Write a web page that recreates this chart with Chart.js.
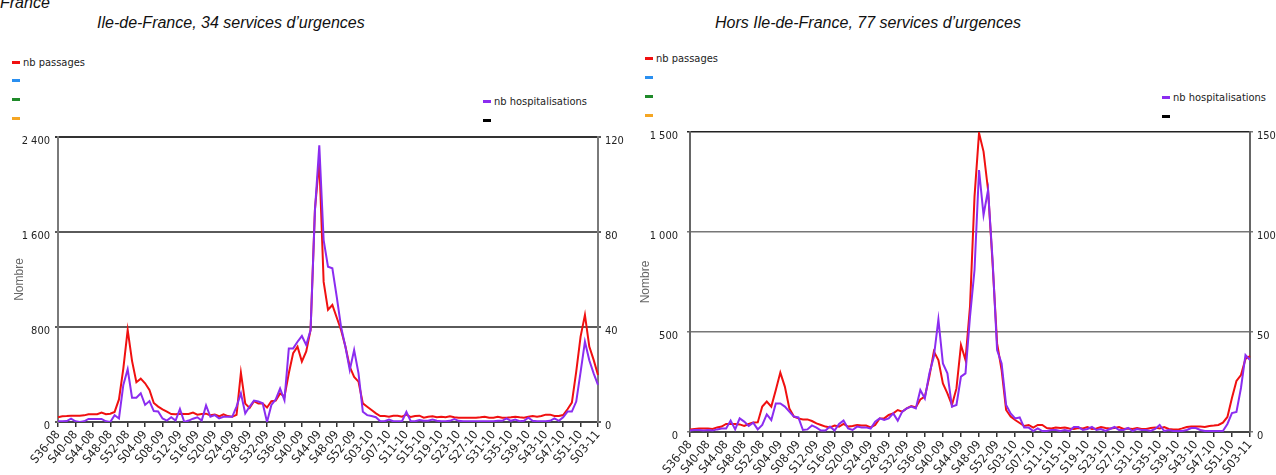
<!DOCTYPE html>
<html>
<head>
<meta charset="utf-8">
<script src="https://cdn.jsdelivr.net/npm/chart.js@4.4.1/dist/chart.umd.min.js"></script>
<style>
  html, body { margin: 0; padding: 0; background: #fff; }
  #page { position: relative; width: 1276px; height: 475px; overflow: hidden;
          font-family: "Liberation Sans", Arial, sans-serif; }
  .ttl { position: absolute; font-style: italic; font-size: 16px; line-height: 16px;
         color: #111; white-space: nowrap; }
  .lg { position: absolute; font-family: "Liberation Sans Narrow", "DejaVu Sans Condensed", sans-serif;
        font-size: 11px; line-height: 12px; color: #222; white-space: nowrap; }
  .lg i { display: inline-block; width: 8px; height: 3px; vertical-align: middle;
          margin-right: 3px; position: relative; top: -1px; }
  .panel { position: absolute; top: 0; height: 475px; }
  canvas { position: absolute; left: 0; top: 0; }
</style>
</head>
<body>
<div id="page">
  <div class="ttl" style="left:0px;top:-5px;">France</div>
  <div class="ttl" style="left:97px;top:15px;">Ile-de-France, 34 services d’urgences</div>
  <div class="ttl" style="left:715px;top:15px;">Hors Ile-de-France, 77 services d’urgences</div>

  <!-- legend, Ile-de-France panel -->
  <div class="lg" style="left:12px;top:57px;"><i style="background:#f01010"></i>nb passages</div>
  <div class="lg" style="left:12px;top:75px;"><i style="background:#2a8ff0"></i></div>
  <div class="lg" style="left:12px;top:94px;"><i style="background:#1f8a2a"></i></div>
  <div class="lg" style="left:12px;top:113px;"><i style="background:#f5a623"></i></div>
  <div class="lg" style="left:483px;top:96px;"><i style="background:#8b2cf0"></i>nb hospitalisations</div>
  <div class="lg" style="left:483px;top:115px;"><i style="background:#000"></i></div>

  <!-- legend, hors Ile-de-France panel -->
  <div class="lg" style="left:645px;top:53px;"><i style="background:#f01010"></i>nb passages</div>
  <div class="lg" style="left:645px;top:72px;"><i style="background:#2a8ff0"></i></div>
  <div class="lg" style="left:645px;top:91px;"><i style="background:#1f8a2a"></i></div>
  <div class="lg" style="left:645px;top:110px;"><i style="background:#f5a623"></i></div>
  <div class="lg" style="left:1162px;top:92px;"><i style="background:#8b2cf0"></i>nb hospitalisations</div>
  <div class="lg" style="left:1162px;top:111px;"><i style="background:#000"></i></div>

  <div class="panel" style="left:0;width:640px;"><canvas id="cIdf" width="640" height="475"></canvas></div>
  <div class="panel" style="left:640px;width:636px;"><canvas id="cHors" width="636" height="475"></canvas></div>
</div>

<script>
// Weekly periods: [year suffix, first week, last week]
const periods = [['08', 36, 52], ['09', 1, 53], ['10', 1, 52], ['11', 1, 3]];
const weeks = [];
periods.forEach(([yy, a, b]) => {
  for (let w = a; w <= b; w++) weeks.push('S' + String(w).padStart(2, '0') + '-' + yy);
});
const weekLabelStep = 4;

// Ile-de-France, 34 emergency departments
const idfPassages = [
  40, 48, 50, 53, 53, 53, 56, 65, 65, 65,
  80, 65, 70, 85, 190, 450, 775, 515, 335, 365,
  326, 270, 160, 130, 107, 87, 67, 65, 70, 67,
  67, 79, 62, 67, 70, 56, 62, 48, 65, 50,
  45, 60, 415, 155, 118, 175, 155, 155, 122, 175,
  180, 240, 215, 410, 580, 635, 510, 595, 775, 1790,
  2200, 1180, 945, 985, 880, 775, 635, 465, 380, 340,
  157, 129, 101, 73, 50, 50, 45, 53, 53, 45,
  62, 42, 50, 53, 36, 45, 48, 40, 45, 40,
  48, 40, 36, 36, 36, 36, 36, 40, 45, 36,
  36, 45, 36, 36, 40, 45, 40, 36, 45, 50,
  45, 50, 62, 62, 50, 50, 59, 107, 163, 424,
  719, 902, 635, 523, 396
];
const idfHospit = [
  0.3, 0.3, 0.4, 1.4, 0.3, 0, 0.3, 1.3, 1.3, 1.3,
  1.3, 0.3, 0, 2.9, 1.5, 15.6, 22.2, 10.2, 10.2, 12.1,
  7.2, 8.8, 4.6, 4.4, 1.5, 0.6, 2, 0.6, 5.5, 0,
  0.6, 1.4, 2, 0.6, 7, 2.2, 2.9, 1.5, 2.2, 2.2,
  2.2, 6.5, 12.1, 3.6, 6.5, 9, 8.6, 7.9, 0, 7.2,
  9.5, 14.1, 9.2, 31, 31, 33.8, 36.2, 32.4, 38.7, 89,
  116.5, 76.6, 65.4, 64.7, 52.8, 40, 31.7, 21.9, 30.3, 20.6,
  4.3, 2.9, 2.5, 2, 0.3, 0.3, 1, 0.3, 0.3, 0.3,
  4.3, 0.3, 0.3, 0.8, 0.5, 0.5, 1, 0.5, 0.3, 0.3,
  0.5, 1.2, 0.5, 0.3, 0.3, 0.3, 0.3, 0.3, 0.3, 0.3,
  0.3, 0.5, 0.5, 1.5, 0.5, 1, 0.3, 0.5, 1.8, 0.5,
  0.3, 0.3, 0.3, 0.5, 1.5, 0.5, 2, 4.4, 4.4, 8.6,
  21, 33.8, 26, 20.5, 15.6
];
const idfLeftTicks = [0, 800, 1600, 2400];
const idfRightTicks = [0, 40, 80, 120];

// Outside Ile-de-France, 77 emergency departments
const horsPassages = [
  13, 15, 17, 17, 17, 15, 23, 27, 40, 40,
  40, 38, 30, 40, 47, 48, 127, 152, 127, 210,
  297, 227, 118, 77, 68, 63, 63, 55, 43, 35,
  27, 23, 32, 27, 40, 27, 30, 35, 32, 32,
  23, 35, 68, 68, 85, 93, 110, 102, 118, 130,
  123, 163, 177, 277, 402, 360, 243, 193, 135, 218,
  435, 360, 627, 1177, 1495, 1402, 1210, 843, 443, 310,
  110, 77, 60, 45, 30, 35, 22, 35, 35, 20,
  18, 22, 20, 22, 18, 15, 20, 18, 25, 15,
  18, 25, 20, 18, 20, 25, 15, 18, 15, 20,
  15, 15, 20, 22, 18, 25, 15, 12, 12, 18,
  25, 28, 28, 28, 25, 30, 32, 35, 47, 75,
  170, 255, 285, 365, 380
];
const horsHospit = [
  0.7, 1, 1, 0.7, 1, 0.7, 1.3, 1.8, 1.8, 5.7,
  1.3, 6.8, 5.2, 3, 4.7, 1.3, 3.5, 8.8, 6, 14.3,
  14.3, 12.7, 10.2, 7.7, 7.3, 1, 1.3, 3.3, 2.2, 0.7,
  0.7, 2.7, 0.7, 4, 5.7, 1.8, 1, 2.7, 2.3, 2.3,
  1.7, 5.2, 6.8, 6, 6.8, 9.3, 5.7, 10.2, 11.8, 12.7,
  11.8, 21, 16.8, 29.3, 37.7, 56.3, 34.3, 29.3, 12.7, 13.5,
  27.7, 29.3, 57.7, 81, 131, 108.5, 121, 86, 41, 34.3,
  13.5, 9.3, 6.8, 7.3, 2.2, 2.2, 0.5, 1.8, 0.5, 0.5,
  1, 1, 0.5, 1, 0.5, 2.5, 2.5, 1, 1.5, 2.5,
  1, 1.5, 0.5, 1.5, 2.5, 1, 1, 2, 0.5, 1.5,
  1, 1, 0.5, 1.5, 3.5, 0.5, 1, 0.5, 0.5, 0.5,
  1, 2, 2, 1, 0.5, 0.5, 0.5, 0.5, 0.5, 4,
  9.5, 10, 22, 38.5, 36
];
const horsLeftTicks = [0, 500, 1000, 1500];
const horsRightTicks = [0, 50, 100, 150];

const NARROW = '"Liberation Sans Narrow", "DejaVu Sans Condensed", sans-serif';
const spaced = v => String(v).replace(/\B(?=(\d{3})+(?!\d))/g, ' ');

function buildChart(id, s) {
  const leftMax = s.leftTicks[s.leftTicks.length - 1];
  const rightMax = s.rightTicks[s.rightTicks.length - 1];
  return new Chart(document.getElementById(id), {
    type: 'line',
    data: {
      labels: weeks,
      datasets: [
        { label: 'nb passages', data: s.passages, yAxisID: 'y', order: 1,
          borderColor: '#f01010', borderWidth: 2, pointRadius: 0, tension: 0, fill: false },
        { label: 'nb hospitalisations', data: s.hospit, yAxisID: 'y1', order: 0,
          borderColor: '#8b2cf0', borderWidth: 2, pointRadius: 0, tension: 0, fill: false }
      ]
    },
    options: {
      responsive: false, animation: false, devicePixelRatio: 1,
      events: [],
      layout: { padding: { top: s.top, left: 0, right: 0, bottom: 0 } },
      plugins: { legend: { display: false }, tooltip: { enabled: false }, title: { display: false } },
      scales: {
        x: {
          type: 'category', offset: false,
          afterBuildTicks: sc => { sc.ticks = sc.ticks.filter((t, i) => i % weekLabelStep === 0); },
          afterFit: sc => { sc.height = s.xHeight; },
          ticks: { autoSkip: false, maxRotation: 50, minRotation: 50, padding: 1,
                   color: '#222', font: { family: NARROW, size: 12 } },
          grid: { drawOnChartArea: false, drawTicks: true, tickLength: 5,
                  color: '#333', lineWidth: 1.5 },
          border: { color: s.axisColor, width: 2 }
        },
        y: {
          position: 'left', min: 0, max: leftMax,
          afterBuildTicks: sc => { sc.ticks = s.leftTicks.map(v => ({ value: v })); },
          afterFit: sc => { sc.width = s.leftWidth; },
          ticks: { callback: spaced, padding: s.leftPad, labelOffset: 4,
                   color: '#222', font: { family: NARROW, size: 11 } },
          grid: { tickLength: 3, lineWidth: s.gridWidth,
                  color: c => (c.tick && c.tick.value === leftMax) ? s.topColor : s.gridColor },
          border: { color: s.sideColor, width: 2 },
          title: { display: true, text: 'Nombre', color: '#666',
                   font: { family: '"Liberation Sans", Arial, sans-serif', size: 12 },
                   padding: { top: s.titlePad, bottom: 0 } }
        },
        y1: {
          position: 'right', min: 0, max: rightMax,
          afterBuildTicks: sc => { sc.ticks = s.rightTicks.map(v => ({ value: v })); },
          afterFit: sc => { sc.width = s.rightWidth; },
          ticks: { callback: spaced, padding: 4, labelOffset: 4,
                   color: '#222', font: { family: NARROW, size: 11 } },
          grid: { drawOnChartArea: false, tickLength: 3, lineWidth: s.gridWidth, color: s.gridColor },
          border: { color: s.sideColor, width: 2 }
        }
      }
    }
  });
}

buildChart('cIdf', {
  passages: idfPassages, hospit: idfHospit,
  leftTicks: idfLeftTicks, rightTicks: idfRightTicks,
  top: 137, xHeight: 53, leftWidth: 58, rightWidth: 42, leftPad: 5, titlePad: 12,
  gridWidth: 2, gridColor: '#5a5a5a', topColor: '#333', sideColor: '#7a7a7a', axisColor: '#444'
});

buildChart('cHors', {
  passages: horsPassages, hospit: horsHospit,
  leftTicks: horsLeftTicks, rightTicks: horsRightTicks,
  top: 132, xHeight: 43, leftWidth: 50, rightWidth: 26, leftPad: 9, titlePad: -2,
  gridWidth: 1.5, gridColor: '#777', topColor: '#222', sideColor: '#666', axisColor: '#444'
});
</script>
</body>
</html>
